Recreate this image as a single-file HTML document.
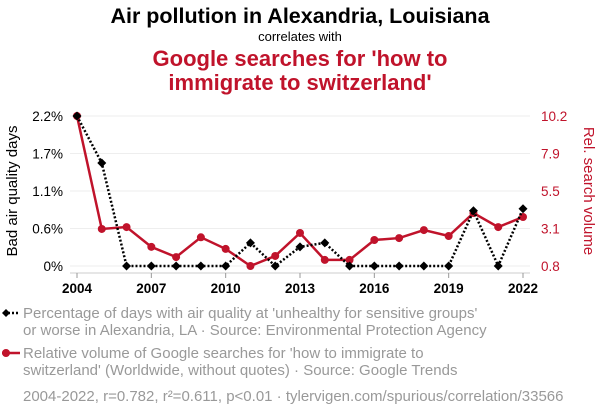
<!DOCTYPE html>
<html><head><meta charset="utf-8"><style>
body{margin:0;background:#fff;font-family:"Liberation Sans",sans-serif}
svg text{font-family:"Liberation Sans",sans-serif}
</style></head><body>
<svg id="c" width="600" height="414" viewBox="0 0 600 414">
<text x="300" y="23" text-anchor="middle" font-size="21.5" font-weight="bold" fill="#000">Air pollution in Alexandria, Louisiana</text>
<text x="300" y="41" text-anchor="middle" font-size="13" fill="#000">correlates with</text>
<text x="300" y="66" text-anchor="middle" font-size="22" font-weight="bold" fill="#c0132b">Google searches for 'how to</text>
<text x="300" y="90" text-anchor="middle" font-size="22" font-weight="bold" fill="#c0132b">immigrate to switzerland'</text>
<g id="grid"></g><g id="axes"></g><g id="series"></g>
<text transform="translate(17,191) rotate(-90)" text-anchor="middle" font-size="15" fill="#000">Bad air quality days</text>
<text transform="translate(584,191) rotate(90)" text-anchor="middle" font-size="15" fill="#c0132b">Rel. search volume</text>
<g>
<line x1="4" y1="313" x2="20" y2="313" stroke="#000" stroke-width="2.5" stroke-dasharray="2,2"/>
<path d="M6 309 L10 313 L6 317 L2 313Z" fill="#000"/>
<text x="23" y="318" font-size="15" fill="#999">Percentage of days with air quality at 'unhealthy for sensitive groups'</text>
<text x="23" y="335" font-size="15" fill="#999">or worse in Alexandria, LA · Source: Environmental Protection Agency</text></g>
<g>
<line x1="2" y1="353" x2="20" y2="353" stroke="#c0132b" stroke-width="2.5"/>
<circle cx="6" cy="353" r="4" fill="#c0132b"/>
<text x="23" y="358" font-size="15" fill="#999">Relative volume of Google searches for 'how to immigrate to</text>
<text x="23" y="375" font-size="15" fill="#999">switzerland' (Worldwide, without quotes) · Source: Google Trends</text></g>
<text x="23" y="401" font-size="15" fill="#999">2004-2022, r=0.782, r²=0.611, p&lt;0.01 · tylervigen.com/spurious/correlation/33566</text>
</svg>
<script>
const years=[2004,2005,2006,2007,2008,2009,2010,2011,2012,2013,2014,2015,2016,2017,2018,2019,2020,2021,2022];
const airValues=[2.2,1.51,0,0,0,0,0,0.34,0,0.28,0.34,0,0,0,0,0,0.81,0,0.84];
const searchValues=[10.2,3.12,3.24,2.0,1.36,2.6,1.87,0.8,1.43,2.87,1.18,1.18,2.43,2.55,3.05,2.68,4.12,3.24,3.87];
const leftTicks=[0,0.55,1.1,1.65,2.2];
const leftLabels=["0%","0.6%","1.1%","1.7%","2.2%"];
const rightTicks=[0.8,3.15,5.5,7.85,10.2];
const rightLabels=["0.8","3.1","5.5","7.9","10.2"];
const xTicks=[2004,2007,2010,2013,2016,2019,2022];
const NS="http://www.w3.org/2000/svg";
const x=v=>77+(v-2004)*(523-77)/18;
const yL=v=>266-v/2.2*150;
const yR=v=>266-(v-0.8)/9.4*150;
function mk(t,a,p){const e=document.createElementNS(NS,t);for(const k in a)e.setAttribute(k,a[k]);p.appendChild(e);return e;}
const grid=document.getElementById('grid'),axes=document.getElementById('axes'),ser=document.getElementById('series');
leftTicks.forEach((t,i)=>{
 const g=mk('line',{x1:70,x2:530,y1:yL(t),y2:yL(t),stroke:'#eee','stroke-width':1},grid);
 
 
 const l=mk('text',{x:63,y:yL(t)+5,'text-anchor':'end','font-size':13.5,fill:'#000'},axes);l.textContent=leftLabels[i];
 
 
});
rightTicks.forEach((t,i)=>{
 const l=mk('text',{x:541,y:yR(t)+5,'font-size':13.5,fill:'#c0132b'},axes);l.textContent=rightLabels[i];
 
 
});
const ax=mk('line',{x1:70,x2:530,y1:273,y2:273,stroke:'#ccc','stroke-width':1},axes);


xTicks.forEach(t=>{
 mk('line',{x1:x(t),x2:x(t),y1:273,y2:278,stroke:'#999'},axes);
 const l=mk('text',{x:x(t),y:293,'text-anchor':'middle','font-size':13.5,'font-weight':'bold',fill:'#000'},axes);l.textContent=t;
 
 
});
const rp=mk('polyline',{points:years.map((y,i)=>x(y)+','+yR(searchValues[i])).join(' '),fill:'none',stroke:'#c0132b','stroke-width':2.5},ser);


years.forEach((y,i)=>{const c=mk('circle',{cx:x(y),cy:yR(searchValues[i]),r:4,fill:'#c0132b'},ser);
 
 });
const bp=mk('polyline',{points:years.map((y,i)=>x(y)+','+yL(airValues[i])).join(' '),fill:'none',stroke:'#000','stroke-width':2.5,'stroke-dasharray':'2,2'},ser);


years.forEach((y,i)=>{const cx=x(y),cy=yL(airValues[i]);
 const d=mk('path',{d:`M${cx} ${cy-4.5}L${cx+4.5} ${cy}L${cx} ${cy+4.5}L${cx-4.5} ${cy}Z`,fill:'#000'},ser);
 
 });
</script>
</body></html>
